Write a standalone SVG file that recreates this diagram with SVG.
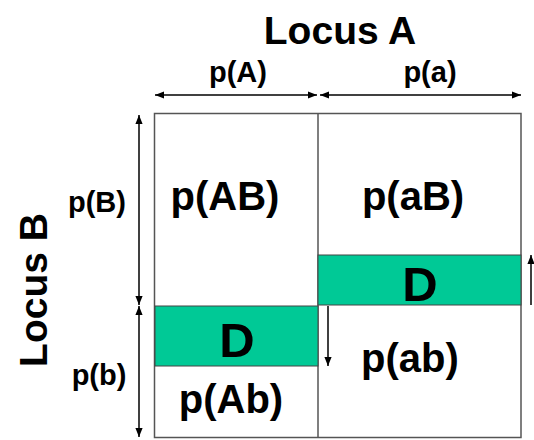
<svg xmlns="http://www.w3.org/2000/svg" width="534" height="440" viewBox="0 0 534 440">
<defs>
<style>
text{font-family:"Liberation Sans",Arial,sans-serif;font-weight:bold;fill:#000;text-anchor:middle}
.t1{font-size:39px}
.t2{font-size:29px}
.t3{font-size:40px}
.t4{font-size:49px}
.box{fill:none;stroke:#555;stroke-width:1.5}
.grn{fill:#00C996;stroke:#444;stroke-width:1}
.arr{stroke:#000;stroke-width:1.5;fill:none}
</style>
<marker id="ah" viewBox="0 0 10 10" refX="10" refY="5" markerWidth="9" markerHeight="9" orient="auto-start-reverse" markerUnits="userSpaceOnUse">
<path d="M0,1 L10,5 L0,9 Z" fill="#000"/>
</marker>
</defs>
<rect width="534" height="440" fill="#fff"/>
<g id="titles">
<text class="t1" x="340" y="44">Locus A</text>
<text class="t1" transform="translate(47,290) rotate(-90)">Locus B</text>
</g>
<g id="grid">
<rect class="box" x="154.5" y="113.5" width="366.5" height="324"/>
<line class="box" x1="318" y1="113.5" x2="318" y2="437.5"/>
</g>
<g id="D-left">
<rect class="grn" x="155" y="306" width="163" height="60"/>
<text class="t4" x="237" y="357">D</text>
</g>
<g id="D-right">
<rect class="grn" x="318" y="255" width="203" height="50"/>
<text class="t4" x="420" y="301">D</text>
</g>
<g id="cell-AB"><text class="t3" x="225" y="210">p(AB)</text></g>
<g id="cell-aB"><text class="t3" x="413" y="210">p(aB)</text></g>
<g id="cell-Ab"><text class="t3" x="231" y="413">p(Ab)</text></g>
<g id="cell-ab"><text class="t3" x="410" y="372">p(ab)</text></g>
<g id="labels">
<text class="t2" x="238" y="82">p(A)</text>
<text class="t2" x="430" y="82">p(a)</text>
<text class="t2" x="97" y="212">p(B)</text>
<text class="t2" x="99" y="385">p(b)</text>
</g>
<g id="connectors">
<line class="arr" x1="155" y1="95" x2="317" y2="95" marker-start="url(#ah)" marker-end="url(#ah)"/>
<line class="arr" x1="320" y1="95" x2="521" y2="95" marker-start="url(#ah)" marker-end="url(#ah)"/>
<line class="arr" x1="139" y1="115" x2="139" y2="305" marker-start="url(#ah)" marker-end="url(#ah)"/>
<line class="arr" x1="139" y1="306" x2="139" y2="437" marker-start="url(#ah)" marker-end="url(#ah)"/>
<line class="arr" x1="328" y1="306" x2="328" y2="366" marker-end="url(#ah)"/>
<line class="arr" x1="531" y1="305" x2="531" y2="255" marker-end="url(#ah)"/>
</g>
</svg>
